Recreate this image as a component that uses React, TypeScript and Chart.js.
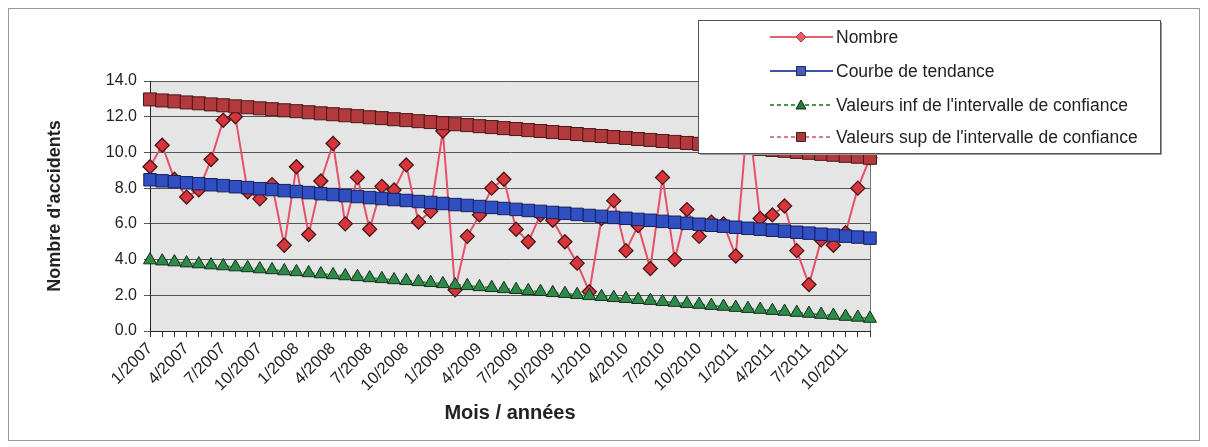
import React, { useEffect, useRef } from 'react';
import { Chart, registerables } from 'chart.js';

Chart.register(...registerables);

const months = [
  '1/2007', '2/2007', '3/2007', '4/2007', '5/2007', '6/2007', '7/2007', '8/2007', '9/2007', '10/2007', '11/2007', '12/2007',
  '1/2008', '2/2008', '3/2008', '4/2008', '5/2008', '6/2008', '7/2008', '8/2008', '9/2008', '10/2008', '11/2008', '12/2008',
  '1/2009', '2/2009', '3/2009', '4/2009', '5/2009', '6/2009', '7/2009', '8/2009', '9/2009', '10/2009', '11/2009', '12/2009',
  '1/2010', '2/2010', '3/2010', '4/2010', '5/2010', '6/2010', '7/2010', '8/2010', '9/2010', '10/2010', '11/2010', '12/2010',
  '1/2011', '2/2011', '3/2011', '4/2011', '5/2011', '6/2011', '7/2011', '8/2011', '9/2011', '10/2011', '11/2011', '12/2011',
];

const nombre = [
  9.2, 10.4, 8.5, 7.5, 7.9, 9.6, 11.8, 12.0, 7.8, 7.4, 8.2, 4.8,
  9.2, 5.4, 8.4, 10.5, 6.0, 8.6, 5.7, 8.1, 7.9, 9.3, 6.1, 6.7,
  11.2, 2.3, 5.3, 6.5, 8.0, 8.5, 5.7, 5.0, 6.5, 6.2, 5.0, 3.8,
  2.2, 6.3, 7.3, 4.5, 5.9, 3.5, 8.6, 4.0, 6.8, 5.3, 6.1, 6.0,
  4.2, 12.2, 6.3, 6.5, 7.0, 4.5, 2.6, 5.1, 4.8, 5.5, 8.0, 9.7,
];

const tendance = [
  8.47, 8.41, 8.36, 8.30, 8.25, 8.19, 8.14, 8.08, 8.03, 7.97, 7.92, 7.86,
  7.81, 7.75, 7.69, 7.64, 7.58, 7.53, 7.47, 7.42, 7.36, 7.31, 7.25, 7.20,
  7.14, 7.08, 7.03, 6.97, 6.92, 6.86, 6.81, 6.75, 6.70, 6.64, 6.59, 6.53,
  6.47, 6.42, 6.36, 6.31, 6.25, 6.20, 6.14, 6.09, 6.03, 5.98, 5.92, 5.87,
  5.81, 5.75, 5.70, 5.64, 5.59, 5.53, 5.48, 5.42, 5.37, 5.31, 5.26, 5.20,
];

const valeursInf = [
  3.97, 3.91, 3.86, 3.80, 3.75, 3.69, 3.64, 3.58, 3.53, 3.47, 3.42, 3.36,
  3.31, 3.25, 3.19, 3.14, 3.08, 3.03, 2.97, 2.92, 2.86, 2.81, 2.75, 2.70,
  2.64, 2.58, 2.53, 2.47, 2.42, 2.36, 2.31, 2.25, 2.20, 2.14, 2.09, 2.03,
  1.97, 1.92, 1.86, 1.81, 1.75, 1.70, 1.64, 1.59, 1.53, 1.48, 1.42, 1.37,
  1.31, 1.25, 1.20, 1.14, 1.09, 1.03, 0.98, 0.92, 0.87, 0.81, 0.76, 0.70,
];

const valeursSup = [
  12.97, 12.91, 12.86, 12.80, 12.75, 12.69, 12.64, 12.58, 12.53, 12.47, 12.42, 12.36,
  12.31, 12.25, 12.19, 12.14, 12.08, 12.03, 11.97, 11.92, 11.86, 11.81, 11.75, 11.70,
  11.64, 11.58, 11.53, 11.47, 11.42, 11.36, 11.31, 11.25, 11.20, 11.14, 11.09, 11.03,
  10.97, 10.92, 10.86, 10.81, 10.75, 10.70, 10.64, 10.59, 10.53, 10.48, 10.42, 10.37,
  10.31, 10.25, 10.20, 10.14, 10.09, 10.03, 9.98, 9.92, 9.87, 9.81, 9.76, 9.70,
];

const seriesNames = [
  'Nombre',
  'Courbe de tendance',
  "Valeurs inf de l'intervalle de confiance",
  "Valeurs sup de l'intervalle de confiance",
];

const FONT = "'Liberation Sans', Arial, sans-serif";

const plotBg = {
  id: 'plotBg',
  beforeDraw(chart: any) {
    const { ctx, chartArea: a } = chart;
    ctx.save();
    ctx.fillStyle = '#e5e5e5';
    ctx.fillRect(a.left, a.top, a.right - a.left, a.bottom - a.top);
    ctx.restore();
  },
  beforeDatasetsDraw(chart: any) {
    const { ctx, chartArea: a } = chart;
    ctx.save();
    ctx.strokeStyle = '#777';
    ctx.lineWidth = 1;
    ctx.beginPath();
    ctx.moveTo(a.right + 0.5, a.top);
    ctx.lineTo(a.right + 0.5, a.bottom);
    ctx.stroke();
    ctx.restore();
  },
};

function marker(ctx: any, kind: string, x: number, y: number, fill: string, stroke: string) {
  ctx.save();
  ctx.fillStyle = fill;
  ctx.strokeStyle = stroke;
  ctx.lineWidth = 1;
  ctx.setLineDash([]);
  ctx.beginPath();
  if (kind === 'diamond') {
    ctx.moveTo(x, y - 5);
    ctx.lineTo(x + 5, y);
    ctx.lineTo(x, y + 5);
    ctx.lineTo(x - 5, y);
    ctx.closePath();
  } else if (kind === 'square') {
    ctx.rect(x - 4.5, y - 4.5, 9, 9);
  } else {
    ctx.moveTo(x, y - 5);
    ctx.lineTo(x + 5, y + 4);
    ctx.lineTo(x - 5, y + 4);
    ctx.closePath();
  }
  ctx.fill();
  ctx.stroke();
  ctx.restore();
}

const boxLegend = {
  id: 'boxLegend',
  afterDraw(chart: any) {
    const { ctx } = chart;
    const bx = 689, by = 11, bw = 462, bh = 133;
    ctx.save();
    ctx.fillStyle = '#9a9a9a';
    ctx.fillRect(bx + 2, by + 2, bw, bh);
    ctx.fillStyle = '#ffffff';
    ctx.fillRect(bx, by, bw, bh);
    ctx.strokeStyle = '#555';
    ctx.lineWidth = 1;
    ctx.strokeRect(bx + 0.5, by + 0.5, bw, bh);
    const rows = [28, 62, 96, 128];
    const styles = [
      { line: '#e0606e', dash: [], kind: 'diamond', fill: '#e8606a', stroke: '#b03838' },
      { line: '#3a55a8', dash: [], kind: 'square', fill: '#4a5cb0', stroke: '#1c2a66' },
      { line: '#3c9a55', dash: [4, 3], kind: 'triangle', fill: '#2a7a3e', stroke: '#0f2c18' },
      { line: '#e07c84', dash: [4, 3], kind: 'square', fill: '#a83a40', stroke: '#4a1a1a' },
    ];
    rows.forEach((ry, i) => {
      const s = styles[i];
      ctx.save();
      ctx.strokeStyle = s.line;
      ctx.lineWidth = 2;
      ctx.setLineDash(s.dash);
      ctx.beginPath();
      ctx.moveTo(761, ry);
      ctx.lineTo(824, ry);
      ctx.stroke();
      ctx.restore();
      marker(ctx, s.kind, 792, ry, s.fill, s.stroke);
      ctx.fillStyle = '#222';
      ctx.font = `17.5px ${FONT}`;
      ctx.textBaseline = 'middle';
      ctx.textAlign = 'left';
      ctx.fillText(seriesNames[i], 827, ry + 1);
    });
    ctx.restore();
  },
};

export default function App() {
  const ref = useRef<HTMLCanvasElement | null>(null);

  useEffect(() => {
    if (!ref.current) return;
    const chart = new Chart(ref.current, {
      type: 'line',
      data: {
        labels: months,
        datasets: [
          {
            label: seriesNames[0],
            data: nombre,
            order: 4,
            borderColor: '#e6506a',
            borderWidth: 2,
            pointStyle: 'rectRot',
            pointRadius: 7,
            pointBackgroundColor: '#d8343c',
            pointBorderColor: '#4a1616',
            pointBorderWidth: 1.3,
            tension: 0,
          },
          {
            label: seriesNames[1],
            data: tendance,
            order: 3,
            borderColor: '#2f4aa8',
            borderWidth: 2,
            pointStyle: 'rect',
            pointRadius: 8.8,
            pointBackgroundColor: '#2f4fc2',
            pointBorderColor: '#17205a',
            pointBorderWidth: 1,
          },
          {
            label: seriesNames[2],
            data: valeursInf,
            order: 2,
            borderColor: '#3c9a55',
            borderDash: [4, 3],
            borderWidth: 2,
            pointStyle: 'triangle',
            pointRadius: 7.5,
            pointBackgroundColor: '#2e8a48',
            pointBorderColor: '#13301c',
            pointBorderWidth: 1,
          },
          {
            label: seriesNames[3],
            data: valeursSup,
            order: 1,
            borderColor: '#d87078',
            borderDash: [4, 3],
            borderWidth: 2,
            pointStyle: 'rect',
            pointRadius: 9.2,
            pointBackgroundColor: '#b23a3c',
            pointBorderColor: '#481818',
            pointBorderWidth: 1,
          },
        ],
      },
      options: {
        animation: false,
        responsive: true,
        maintainAspectRatio: false,
        layout: { padding: { left: 35, right: 329, top: 72, bottom: 12 } },
        plugins: {
          legend: { display: false },
          tooltip: { enabled: false },
        },
        scales: {
          x: {
            offset: false,
            afterFit: (s: any) => { s.height = 97; },
            grid: { drawOnChartArea: false, drawTicks: true, tickLength: 6, color: '#333' },
            border: { display: true, color: '#222', width: 1 },
            ticks: {
              autoSkip: false,
              maxRotation: 45,
              minRotation: 45,
              padding: 2,
              color: '#222',
              font: { family: FONT, size: 16.5 },
              callback: (_v: any, i: number) => (i % 3 === 0 ? months[i] : ''),
            },
            title: {
              display: true,
              text: 'Mois / années',
              color: '#222',
              font: { family: FONT, size: 20, weight: 'bold' },
              padding: { top: 0, bottom: 3 },
            },
          },
          y: {
            min: 0,
            max: 14,
            afterFit: (s: any) => { s.width = 106; },
            grid: { color: '#555', lineWidth: 1, tickLength: 6, drawTicks: true },
            border: { display: true, color: '#222', width: 1 },
            ticks: {
              stepSize: 2,
              padding: 7,
              color: '#222',
              font: { family: FONT, size: 16 },
              callback: (v: any) => Number(v).toFixed(1),
            },
            title: {
              display: true,
              text: "Nombre d'accidents",
              color: '#222',
              font: { family: FONT, size: 18, weight: 'bold' },
              padding: 0,
            },
          },
        },
      },
      plugins: [plotBg, boxLegend],
    });
    return () => chart.destroy();
  }, []);

  return (
    <div
      style={{
        position: 'relative',
        width: 1192,
        height: 433,
        border: '1px solid #999',
        boxSizing: 'border-box',
        background: '#fff',
      }}
    >
      <canvas ref={ref} />
    </div>
  );
}
